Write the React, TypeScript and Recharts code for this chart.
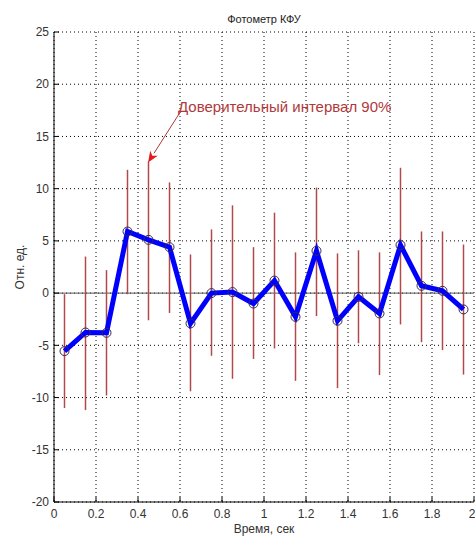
import React from 'react';
import {
  ComposedChart, Line, XAxis, YAxis, CartesianGrid, ErrorBar, ReferenceLine,
} from 'recharts';

const times = [0.05, 0.15, 0.25, 0.35, 0.45, 0.55, 0.65, 0.75, 0.85, 0.95, 1.05, 1.15, 1.25, 1.35, 1.45, 1.55, 1.65, 1.75, 1.85, 1.95];
const values = [-5.55, -3.77, -3.8, 5.9, 5.1, 4.4, -2.9, 0.0, 0.1, -1.0, 1.2, -2.27, 4.05, -2.65, -0.35, -1.95, 4.6, 0.7, 0.22, -1.56];
const lows = [-11.0, -11.2, -9.8, -0.1, -2.6, -1.9, -9.4, -6.0, -8.2, -6.3, -5.3, -8.4, -2.2, -9.1, -4.8, -7.85, -3.0, -4.7, -5.45, -7.8];
const highs = [-0.1, 3.5, 2.2, 11.8, 12.6, 10.6, 3.7, 6.1, 8.4, 4.4, 7.7, 3.9, 10.1, 3.8, 4.1, 3.9, 12.0, 5.9, 5.9, 4.65];

const xTicks = [0, 0.2, 0.4, 0.6, 0.8, 1, 1.2, 1.4, 1.6, 1.8, 2];
const yTicks = [-20, -15, -10, -5, 0, 5, 10, 15, 20, 25];

const title = 'Фотометр КФУ';
const xLabel = 'Время, сек';
const yLabel = 'Отн. ед.';
const annotationText = 'Доверительный интервал 90%';
const annotationFrom = { x: 0.6, y: 17.3 };
const annotationTo = { x: 0.448, y: 12.5 };

const data = times.map((t, i) => ({
  t,
  v: values[i],
  err: [values[i] - lows[i], highs[i] - values[i]],
}));

const FONT = '"Liberation Sans", Arial, sans-serif';

const ArrowShape = (p: any) => {
  const { x1, y1, x2, y2 } = p;
  const dx = x2 - x1;
  const dy = y2 - y1;
  const len = Math.sqrt(dx * dx + dy * dy) || 1;
  const ux = dx / len;
  const uy = dy / len;
  const hl = 11;
  const hw = 4.5;
  const bx = x2 - ux * hl;
  const by = y2 - uy * hl;
  const px = -uy;
  const py = ux;
  return (
    <g>
      <line x1={x1} y1={y1} x2={bx} y2={by} stroke="#a83a3a" strokeWidth={1} />
      <polygon
        points={`${x2},${y2} ${bx + px * hw},${by + py * hw} ${bx + ux * 3},${by + uy * 3} ${bx - px * hw},${by - py * hw}`}
        fill="#e21c1c"
      />
      <text x={x1 - 2} y={y1} fill="#b0383a" fontSize={15} fontFamily={FONT}>
        {annotationText}
      </text>
    </g>
  );
};

const YLabel = (p: any) => {
  const vb = p.viewBox || {};
  const cy = vb.y + vb.height / 2;
  const cx = 20;
  return (
    <text
      x={cx}
      y={cy}
      transform={`rotate(-90, ${cx}, ${cy})`}
      textAnchor="middle"
      dominantBaseline="central"
      fontSize={12}
      fill="#333"
      fontFamily={FONT}
    >
      {yLabel}
    </text>
  );
};

export default function App() {
  return (
    <div style={{ position: 'absolute', left: 0, top: 0, width: 475, height: 537, background: '#fff', fontFamily: FONT }}>
      <div
        style={{
          position: 'absolute', left: 54, top: 14, width: 420, textAlign: 'center',
          fontSize: 11, lineHeight: '11px', color: '#222', fontFamily: FONT,
        }}
      >
        {title}
      </div>
      <ComposedChart
        width={475}
        height={537}
        data={data}
        margin={{ top: 32, right: 1, bottom: 0, left: 0 }}
      >
        <CartesianGrid stroke="#000" strokeDasharray="1 3" strokeWidth={1} />
        <XAxis
          dataKey="t"
          type="number"
          domain={[0, 2]}
          ticks={xTicks}
          height={35}
          tickSize={-5}
          tickMargin={12}
          axisLine={{ stroke: '#000' }}
          tickLine={{ stroke: '#000' }}
          tick={{ fill: '#333', fontSize: 12, fontFamily: FONT }}
          label={{ value: xLabel, position: 'insideBottom', offset: 4, fill: '#333', fontSize: 12, fontFamily: FONT }}
        />
        <XAxis
          xAxisId="top"
          orientation="top"
          dataKey="t"
          type="number"
          domain={[0, 2]}
          ticks={xTicks}
          height={0}
          tickSize={-5}
          tick={false}
          axisLine={{ stroke: '#000' }}
          tickLine={{ stroke: '#000' }}
        />
        <YAxis
          type="number"
          domain={[-20, 25]}
          ticks={yTicks}
          width={54}
          tickSize={-5}
          tickMargin={10}
          axisLine={{ stroke: '#000' }}
          tickLine={{ stroke: '#000' }}
          tick={{ fill: '#333', fontSize: 12, fontFamily: FONT }}
          label={<YLabel />}
        />
        <YAxis
          yAxisId="right"
          orientation="right"
          type="number"
          domain={[-20, 25]}
          ticks={yTicks}
          width={0}
          tickSize={-5}
          tick={false}
          axisLine={{ stroke: '#000' }}
          tickLine={{ stroke: '#000' }}
        />
        <ReferenceLine y={0} stroke="#555" strokeWidth={1} />
        <Line
          dataKey="v"
          stroke="#0000ff"
          strokeWidth={5}
          isAnimationActive={false}
          dot={{ r: 4.5, stroke: '#3a2a4a', strokeWidth: 1, fill: 'none' }}
          activeDot={false}
        >
          <ErrorBar
            dataKey="err"
            width={0}
            stroke="#b04a4a"
            strokeWidth={1.5}
            direction="y"
            isAnimationActive={false}
          />
        </Line>
        <ReferenceLine
          segment={[annotationFrom, annotationTo]}
          stroke="#a83a3a"
          shape={ArrowShape}
          ifOverflow="visible"
        />
      </ComposedChart>
    </div>
  );
}
